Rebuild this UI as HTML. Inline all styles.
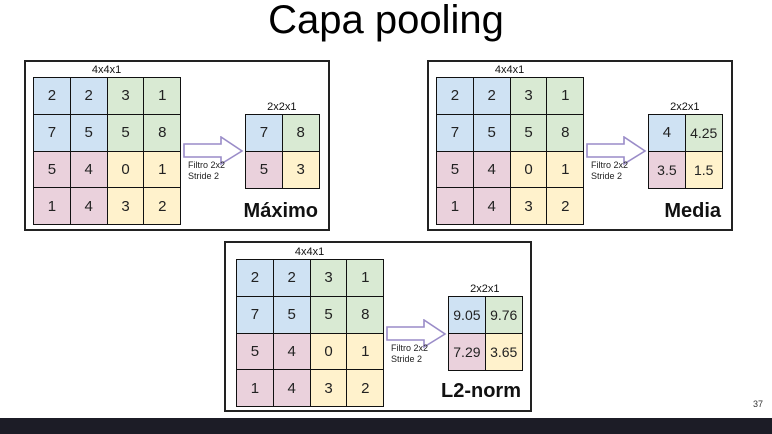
<!DOCTYPE html>
<html><head><meta charset="utf-8"><style>
body{margin:0;width:772px;height:434px;background:#fff;position:relative;overflow:hidden;font-family:"Liberation Sans",sans-serif}
.abs{position:absolute}
.panel{position:absolute;border:2px solid #222;box-sizing:border-box}
.cell{position:absolute;box-sizing:border-box;border:1px solid #111;display:flex;align-items:center;justify-content:center;font-size:15px;color:#222}
.lbl{position:absolute;font-size:11px;color:#111;text-align:center}
.ft{position:absolute;font-size:9px;line-height:11px;color:#222}
.name{position:absolute;font-weight:bold;font-size:20px;color:#111}
</style></head><body>
<div class="abs" style="left:0;width:772px;top:-2px;text-align:center;font-size:40px;color:#000">Capa pooling</div>
<div class="abs" style="left:753px;top:399px;font-size:9px;color:#333">37</div>
<div class="abs" style="left:0;top:418px;width:772px;height:16px;background:#1c1c26"></div>
<div id="root"></div>
<script>
const inputValues=[[2,2,3,1],[7,5,5,8],[5,4,0,1],[1,4,3,2]];
const maxValues=[["7","8"],["5","3"]];
const meanValues=[["4","4.25"],["3.5","1.5"]];
const l2Values=[["9.05","9.76"],["7.29","3.65"]];
const panelNames=["Máximo","Media","L2-norm"];
const quadColors=[["#cfe2f3","#d9ead3"],["#ead1dc","#fff2cc"]];
const panels=[
 {box:[24,60,306,171],gx:33,gy:77,ox:245,oy:114,ax:183,ay:150,out:maxValues,name:panelNames[0],nx:318,ny:200},
 {box:[427,60,306,171],gx:436,gy:77,ox:648,oy:114,ax:586,ay:150,out:meanValues,name:panelNames[1],nx:721,ny:200},
 {box:[224,241,308,171],gx:236,gy:259,ox:448,oy:296,ax:386,ay:333,out:l2Values,name:panelNames[2],nx:521,ny:380}
];
const root=document.getElementById('root');
const cw=36.8,ch=36.8;
function mk(cls,style,txt){const d=document.createElement('div');d.className=cls;d.style.cssText=style;if(txt!==undefined)d.textContent=txt;root.appendChild(d);return d;}
panels.forEach((p,pi)=>{
 const b=mk('panel',`left:${p.box[0]}px;top:${p.box[1]}px;width:${p.box[2]}px;height:${p.box[3]}px`);
 
 
 const l1=mk('lbl',`left:${p.gx}px;top:${p.gy-13}px;width:${4*cw}px`,'4x4x1');
 
 
 inputValues.forEach((row,r)=>row.forEach((v,c)=>{
  const e=mk('cell',`left:${p.gx+c*cw}px;top:${p.gy+r*ch}px;width:${cw+1}px;height:${ch+1}px;background:${quadColors[r>>1][c>>1]}`,v);
  
  
 }));
 const l2=mk('lbl',`left:${p.ox}px;top:${p.oy-13}px;width:${2*cw}px`,'2x2x1');
 
 
 p.out.forEach((row,r)=>row.forEach((v,c)=>{
  const e=mk('cell',`left:${p.ox+c*cw}px;top:${p.oy+r*ch}px;width:${cw+1}px;height:${ch+1}px;background:${quadColors[r][c]};font-size:${v.length>2?14:15}px`,v);
  
  
 }));
 const s=document.createElementNS('http://www.w3.org/2000/svg','svg');
 s.setAttribute('width','62');s.setAttribute('height','30');
 s.style.cssText=`position:absolute;left:${p.ax}px;top:${p.ay-14}px`;
 s.innerHTML='<polygon points="1,8 38,8 38,1 59,15 38,28 38,21 1,21" fill="#fff" stroke="#9a8cc8" stroke-width="1.6"/>';
 
 
 root.appendChild(s);
 const f=mk('ft',`left:${p.ax+5}px;top:${p.ay+10}px`,'');
 f.innerHTML='Filtro 2x2<br>Stride 2';
 
 
 const n=mk('name',`right:${772-p.nx}px;top:${p.ny}px`,p.name);
 
 
});
</script>
</body></html>
